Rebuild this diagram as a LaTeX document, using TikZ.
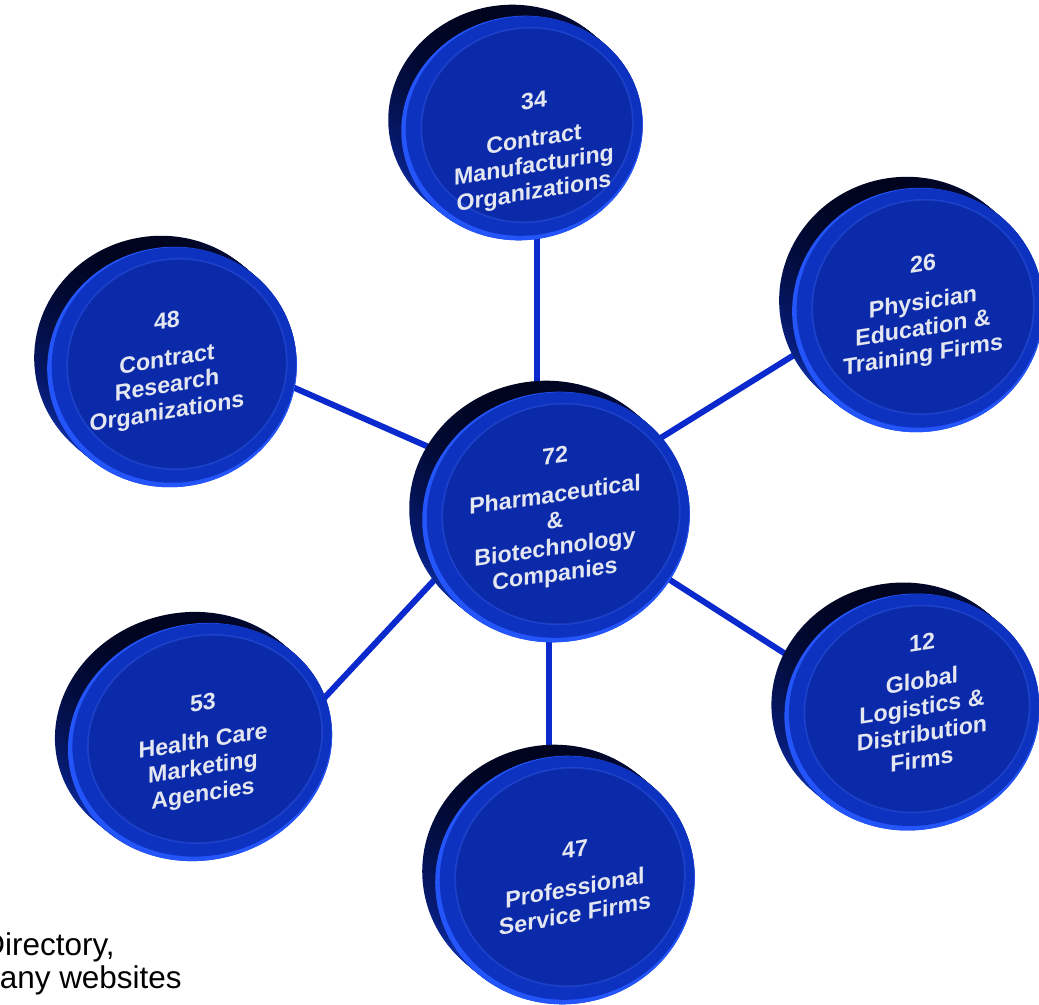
\documentclass[tikz,border=0pt]{standalone}
\usepackage{fontspec}
\setmainfont{Liberation Sans}
\usetikzlibrary{calc}
\definecolor{linkc}{RGB}{10,42,205}
\definecolor{facec}{RGB}{10,42,170}
\definecolor{bandc}{RGB}{14,50,192}
\definecolor{rimc}{RGB}{35,85,250}
\definecolor{sidedark}{RGB}{0,4,30}
\definecolor{sidelight}{RGB}{30,80,245}
\definecolor{ringc}{RGB}{50,90,225}
\definecolor{textc}{RGB}{228,230,240}
\tikzset{
  link/.style={draw=linkc, line width=4.5pt},
  lbl/.style={text=textc, align=center, font=\bfseries\fontsize{17.4}{19.8}\selectfont, transform shape, inner sep=0pt},
  note/.style={text=black, font=\fontsize{23.6}{28}\selectfont, inner sep=0pt},
  sideshade/.style={top color=sidedark, bottom color=sidelight, middle color=sidedark!35!facec, shading angle=15},
}
\newcommand\drawdisc[5]{%
  \foreach \k in {0,...,10}{%
    \pgfmathsetmacro\px{#1-13*(1-\k/10)}%
    \pgfmathsetmacro\py{#2-11*(1-\k/10)}%
    \path[sideshade, rotate around={#5:(\px,\py)}] (\px,\py) ellipse [x radius=#3, y radius=#4];
  }%
  \fill[rimc, rotate around={#5:(#1,#2)}] (#1,#2) ellipse [x radius=#3, y radius=#4];
  \pgfmathsetmacro\qx{#1+2}\pgfmathsetmacro\qy{#2-2}%
  \pgfmathsetmacro\qa{#3-2.5}\pgfmathsetmacro\qb{#4-2.5}%
  \fill[bandc, rotate around={#5:(\qx,\qy)}] (\qx,\qy) ellipse [x radius=\qa, y radius=\qb];
  \pgfmathsetmacro\sx{#1+5}\pgfmathsetmacro\sy{#2-3}%
  \pgfmathsetmacro\ra{#3-15}\pgfmathsetmacro\rb{#4-15}%
  \fill[facec, rotate around={#5:(\sx,\sy)}] (\sx,\sy) ellipse [x radius=\ra, y radius=\rb];
  \draw[ringc, line width=1.2pt, opacity=0.45, rotate around={#5:(\sx,\sy)}] (\sx,\sy) ellipse [x radius=\ra, y radius=\rb];
}
\begin{document}
\begin{tikzpicture}[x=0.75pt, y=-0.75pt]
\useasboundingbox (0,0) rectangle (1039,1005);
\fill[white] (0,0) rectangle (1039,1005);
\coordinate (c) at (556,517);
\coordinate (t) at (522,128);
\coordinate (ul) at (172,367);
\coordinate (ur) at (918,310);
\coordinate (lr) at (912,712);
\coordinate (b) at (565,880);
\coordinate (ll) at (200,742);
% connectors
\draw[link] ($(c)+(-19,0)$) -- ($(t)+(15,0)$);
\draw[link] ($(c)+(0,-14)$) -- ($(ul)+(0,-33)$);
\draw[link] ($(c)+(0,-14)$) -- ($(ur)+(0,-32)$);
\draw[link] ($(c)+(0,-10)$) -- ($(lr)+(0,23)$);
\draw[link] ($(c)+(-7,0)$) -- ($(b)+(-16,0)$);
\draw[link] ($(c)+(-76,14)$) -- ($(ll)+(60,25)$);
% discs
\drawdisc{556}{517}{134}{125}{10}
\drawdisc{522}{128}{121}{112}{10}
\drawdisc{172}{367}{125}{120}{12}
\drawdisc{918}{310}{126}{122}{12}
\drawdisc{912}{712}{128}{118}{12}
\drawdisc{565}{880}{130}{124}{12}
\drawdisc{200}{742}{133}{118}{15}
% labels
\begin{scope}[shift={(555,517)}, yslant=0.14]
  \node[lbl] (n72) at (0,0) {72\\[9pt]Pharmaceutical\\\&\\Biotechnology\\Companies};
\end{scope}
\begin{scope}[shift={(534,148)}, yslant=0.16]
  \node[lbl] (n34) at (0,0) {34\\[9pt]Contract\\Manufacturing\\Organizations};
\end{scope}
\begin{scope}[shift={(167,368)}, yslant=0.16]
  \node[lbl] (n48) at (0,0) {48\\[9pt]Contract\\Research\\Organizations};
\end{scope}
\begin{scope}[shift={(923,311)}, yslant=0.16]
  \node[lbl] (n26) at (0,0) {26\\[9pt]Physician\\Education \&\\Training Firms};
\end{scope}
\begin{scope}[shift={(922,701)}, yslant=0.16]
  \node[lbl] (n12) at (0,0) {12\\[9pt]Global\\Logistics \&\\Distribution\\Firms};
\end{scope}
\begin{scope}[shift={(575,882)}, yslant=0.18]
  \node[lbl] (n47) at (0,0) {47\\[9pt]Professional\\Service Firms};
\end{scope}
\begin{scope}[shift={(203,750)}, yslant=0.16]
  \node[lbl] (n53) at (0,0) {53\\[9pt]Health Care\\Marketing\\Agencies};
\end{scope}
% source note (cut at left edge)
\node[note, anchor=base east] (src1) at (115,955) {Directory,};
\node[note, anchor=base east] (src2) at (182,988) {any websites};
\end{tikzpicture}
\end{document}
